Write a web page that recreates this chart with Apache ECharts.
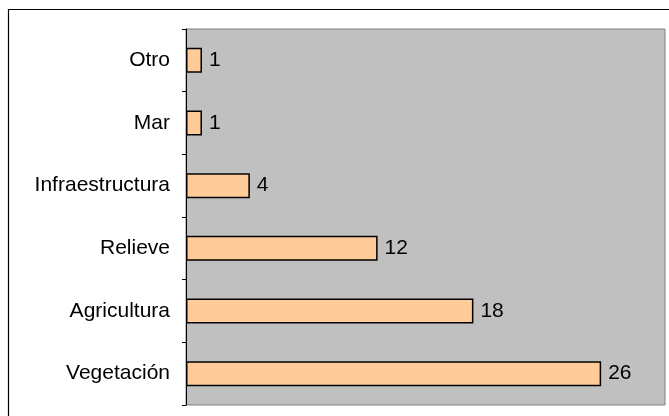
<!DOCTYPE html>
<html>
<head>
<meta charset="utf-8">
<script src="https://cdn.jsdelivr.net/npm/echarts@6/dist/echarts.min.js"></script>
<style>html,body{margin:0;padding:0;background:#fff}#c{width:669px;height:416px}</style>
</head>
<body>
<div id="c"></div>
<script>
const categories = ['Vegetación', 'Agricultura', 'Relieve', 'Infraestructura', 'Mar', 'Otro'];
const values = [26, 18, 12, 4, 1, 1];
const xMax = 30;

const chart = echarts.init(document.getElementById('c'), null, {renderer: 'canvas'});
chart.setOption({
  animation: false,
  backgroundColor: '#ffffff',
  textStyle: {fontFamily: 'Liberation Sans, Arial, sans-serif'},
  graphic: [{
    type: 'rect', z: 100, silent: true,
    shape: {x: 8.5, y: 9.5, width: 700, height: 500},
    style: {fill: 'none', stroke: '#000', lineWidth: 1.2}
  }],
  grid: {
    left: 186, top: 29, right: 4, bottom: 11,
    show: true, backgroundColor: '#C0C0C0', borderColor: '#808080', borderWidth: 1
  },
  xAxis: {
    type: 'value', min: 0, max: xMax,
    axisLine: {show: false}, axisTick: {show: false}, axisLabel: {show: false}, splitLine: {show: false}
  },
  yAxis: {
    type: 'category', data: categories,
    axisLine: {show: true, lineStyle: {color: '#000', width: 1}},
    axisTick: {show: true, length: 4, lineStyle: {color: '#000'}},
    axisLabel: {color: '#000', fontSize: 21, margin: 16, fontFamily: 'Liberation Sans, Arial, sans-serif'},
    splitLine: {show: false}
  },
  series: [{
    type: 'bar', data: values, barWidth: 25,
    itemStyle: {color: '#FFCC99', borderColor: '#000', borderWidth: 1.5},
    label: {show: true, position: 'right', distance: 7, color: '#000', fontSize: 21, fontFamily: 'Liberation Sans, Arial, sans-serif'}
  }]
});
</script>
</body>
</html>
